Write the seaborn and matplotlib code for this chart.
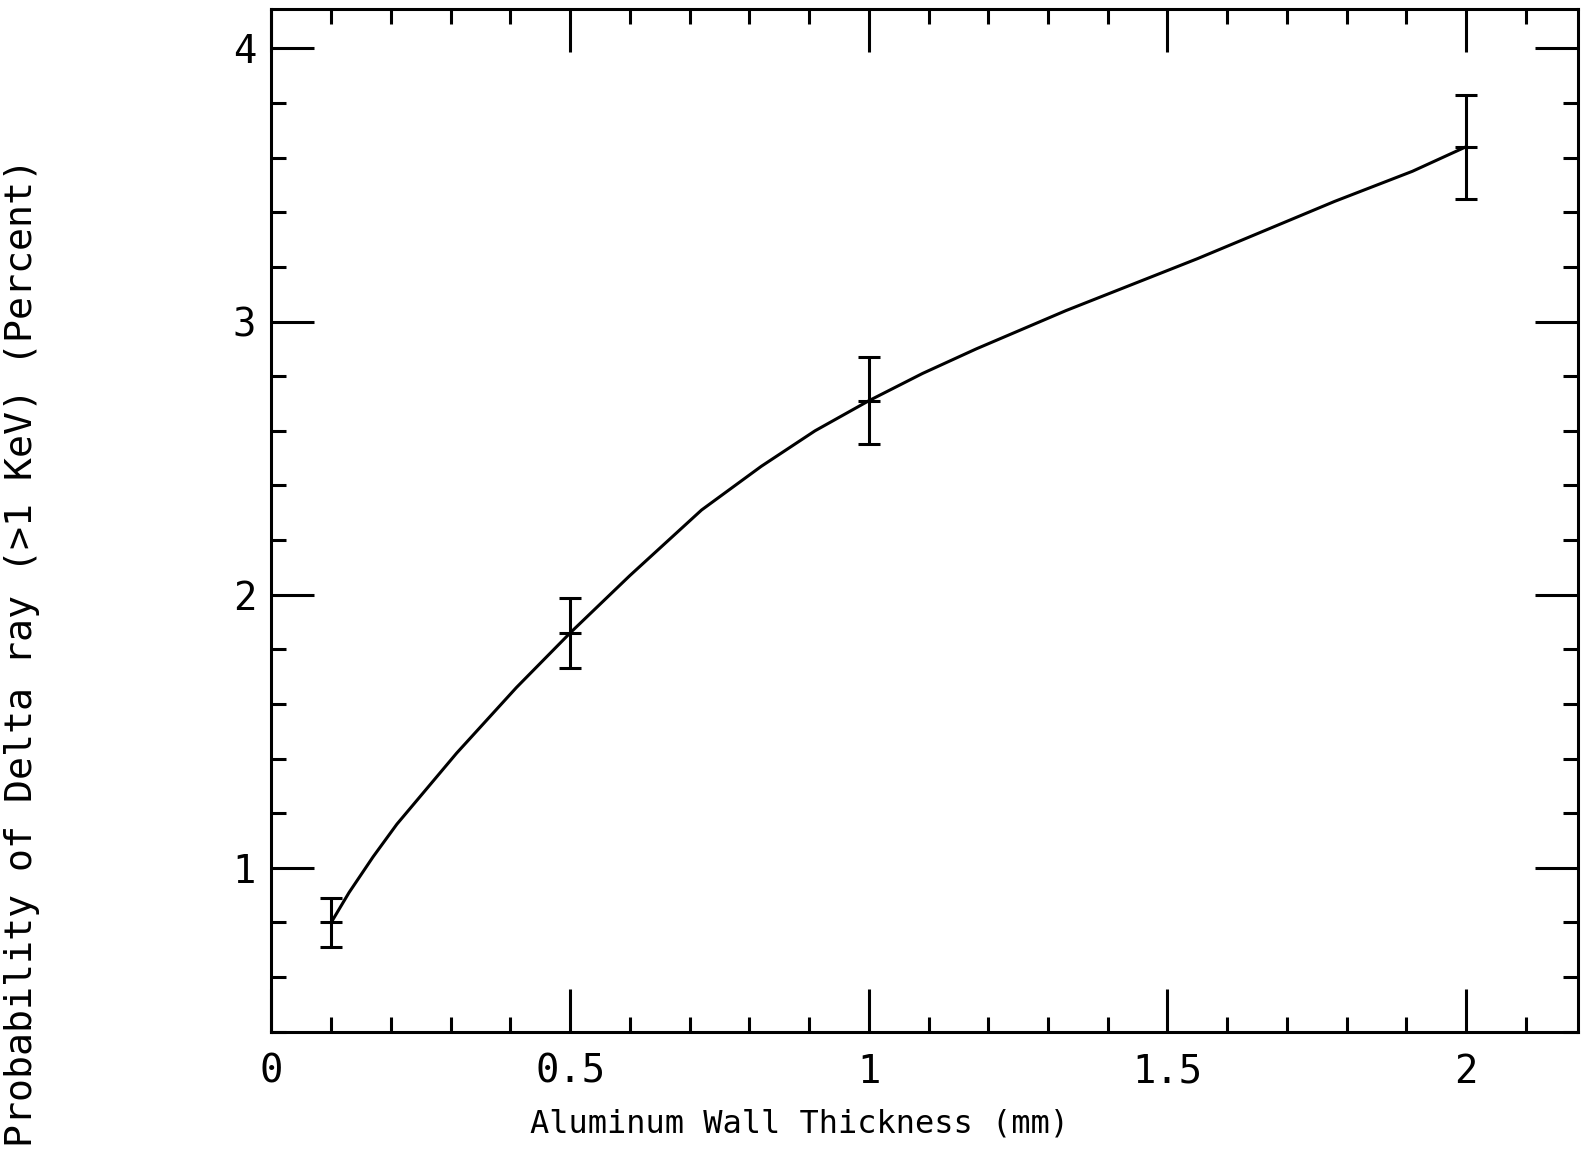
import matplotlib
matplotlib.use("Agg")
import matplotlib.pyplot as plt
import seaborn as sns
import pandas as pd
from matplotlib.ticker import MultipleLocator

# measured points with error bars
thickness = [0.1, 0.5, 1.0, 2.0]
prob = [0.80, 1.86, 2.71, 3.64]
prob_err = [0.088, 0.127, 0.160, 0.190]

# smooth curve
curve_x = [0.10, 0.13, 0.17, 0.21, 0.31, 0.41, 0.50, 0.60, 0.65, 0.72, 0.82,
           0.91, 1.00, 1.09, 1.18, 1.33, 1.55, 1.78, 1.91, 2.00]
curve_y = [0.80, 0.91, 1.04, 1.16, 1.42, 1.66, 1.86, 2.07, 2.17, 2.31, 2.47,
           2.60, 2.71, 2.81, 2.90, 3.04, 3.23, 3.44, 3.55, 3.64]

x_ticks = [0, 0.5, 1, 1.5, 2]
x_ticklabels = ["0", "0.5", "1", "1.5", "2"]
y_ticks = [1, 2, 3, 4]
y_ticklabels = ["1", "2", "3", "4"]

sns.set_style("ticks")
plt.rcParams["font.family"] = ["DejaVu Sans Mono", "DejaVu Sans"]
plt.rcParams["text.color"] = "black"
plt.rcParams["axes.labelcolor"] = "black"
plt.rcParams["xtick.color"] = "black"
plt.rcParams["ytick.color"] = "black"

fig = plt.figure(figsize=(15.81, 11.51), dpi=100)
ax = fig.add_axes([0.1717, 0.1036, 0.998 - 0.1717, 0.9919 - 0.1036])

curve = pd.DataFrame({"x": curve_x, "y": curve_y})
sns.lineplot(data=curve, x="x", y="y", ax=ax, color="black", linewidth=2.2,
             sort=False, estimator=None)

ax.errorbar(thickness, prob, yerr=prob_err, fmt="_", color="black",
            markersize=16, markeredgewidth=2.2, elinewidth=2.2,
            capsize=8, capthick=2.2)

ax.set_xlim(0, 2.187)
ax.set_ylim(0.4, 4.143)

ax.set_xticks(x_ticks)
ax.set_xticklabels(x_ticklabels)
ax.set_yticks(y_ticks)
ax.set_yticklabels(y_ticklabels)
ax.xaxis.set_minor_locator(MultipleLocator(0.1))
ax.yaxis.set_minor_locator(MultipleLocator(0.2))

ax.tick_params(which="both", direction="in", top=True, right=True,
               width=2.2, color="black", labelcolor="black")
ax.tick_params(which="major", length=31, labelsize=28)
ax.tick_params(axis="x", which="major", pad=15)
ax.tick_params(axis="y", which="major", pad=11)
ax.tick_params(which="minor", length=11)

for s in ax.spines.values():
    s.set_linewidth(2.2)
    s.set_color("black")

ax.set_xlabel("Aluminum Wall Thickness (mm)", fontsize=23, color="black")
ax.set_ylabel("Probability of Delta ray (>1 KeV) (Percent)", fontsize=27.5,
              color="black")
ax.xaxis.set_label_coords(0.404, -0.075)
ax.yaxis.set_label_coords(-0.1775, 0.371)

fig.savefig("out.png", dpi=100)
